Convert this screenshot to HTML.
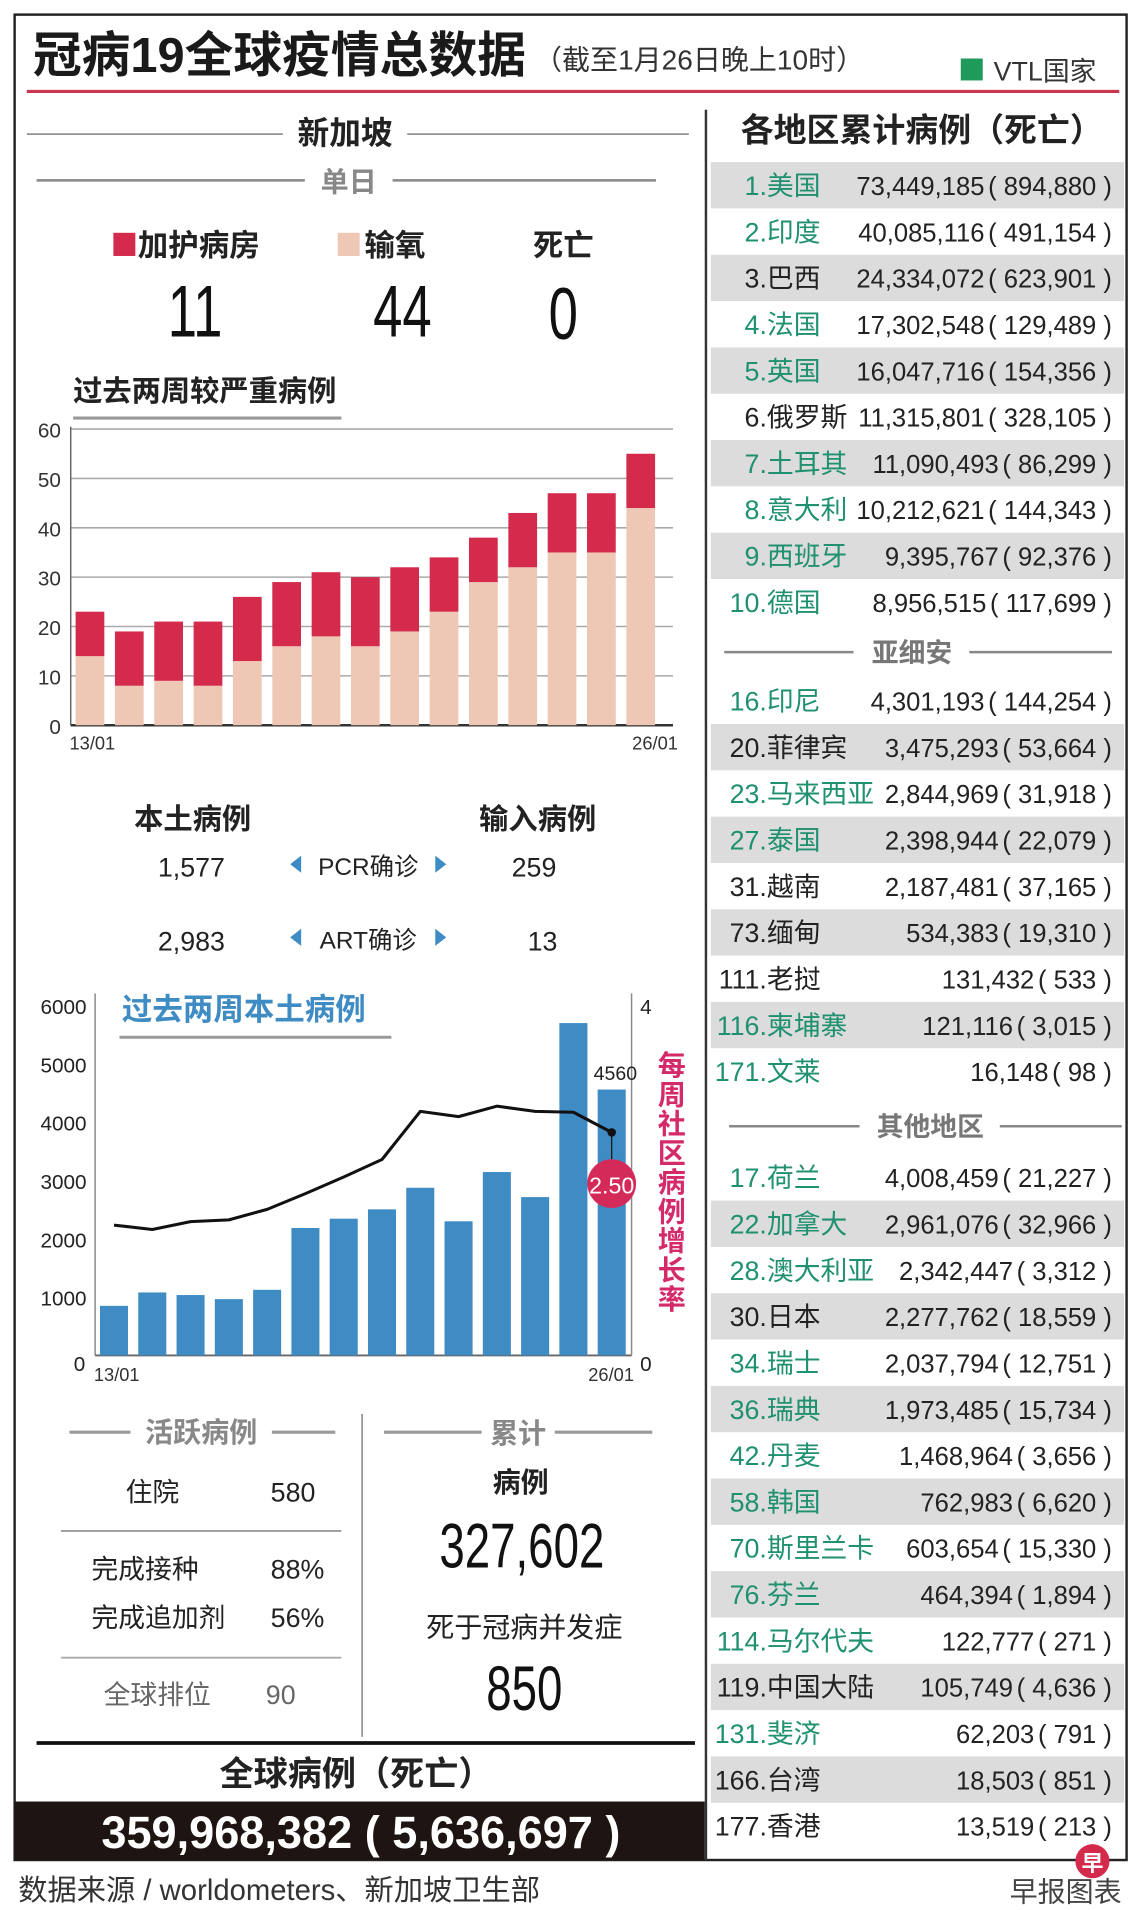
<!DOCTYPE html>
<html><head><meta charset="utf-8">
<style>
html,body{margin:0;padding:0;background:#fff;}
svg{display:block;}
text{font-family:"Liberation Sans","Noto Sans CJK SC",sans-serif;}
.b{font-weight:bold;}
</style></head>
<body>
<svg id="root" width="1140" height="1910" viewBox="0 0 935 1567" preserveAspectRatio="none" xmlns="http://www.w3.org/2000/svg">
<rect x="0" y="0" width="935" height="1567" fill="#fff"/>
<rect x="12" y="12" width="912" height="1514" fill="none" stroke="#222" stroke-width="2"/>
<!-- title -->
<text x="27" y="59" font-size="40" class="b" fill="#1a1a1a">冠病19全球疫情总数据</text>
<text x="438" y="57" font-size="23" fill="#333">（截至1月26日晚上10时）</text>
<rect x="788" y="48" width="18" height="18" fill="#1f9a5a"/>
<text x="815" y="66" font-size="22" fill="#333">VTL国家</text>
<line x1="22" y1="75" x2="918" y2="75" stroke="#c8374f" stroke-width="2.5"/>

<!-- left: singapore -->
<line x1="22" y1="110" x2="232" y2="110" stroke="#555" stroke-width="1"/>
<line x1="334" y1="110" x2="565" y2="110" stroke="#555" stroke-width="1"/>
<text x="283" y="118" font-size="26" class="b" text-anchor="middle" fill="#222">新加坡</text>
<line x1="30" y1="148" x2="250" y2="148" stroke="#888" stroke-width="2"/>
<line x1="322" y1="148" x2="538" y2="148" stroke="#888" stroke-width="2"/>
<text x="286" y="157" font-size="23" class="b" text-anchor="middle" fill="#888">单日</text>

<rect x="93" y="191" width="18" height="19" fill="#d42a4c"/>
<text x="113" y="210" font-size="25" class="b" fill="#222">加护病房</text>
<rect x="277" y="191" width="18" height="19" fill="#eec7b5"/>
<text x="299" y="210" font-size="25" class="b" fill="#222">输氧</text>
<text x="462" y="210" font-size="25" class="b" text-anchor="middle" fill="#222">死亡</text>
<text transform="translate(160,276) scale(0.72,1)" font-size="60" text-anchor="middle" fill="#111">11</text>
<text transform="translate(330,276) scale(0.72,1)" font-size="60" text-anchor="middle" fill="#111">44</text>
<text transform="translate(462,278) scale(0.72,1)" font-size="60" text-anchor="middle" fill="#111">0</text>

<text x="60" y="329" font-size="24" class="b" fill="#222">过去两周较严重病例</text>
<line x1="60" y1="343" x2="280" y2="343" stroke="#999" stroke-width="2.5"/>
<g id="chart1"></g>

<!-- local/imported -->
<text x="158" y="680" font-size="24" class="b" text-anchor="middle" fill="#222">本土病例</text>
<text x="441" y="680" font-size="24" class="b" text-anchor="middle" fill="#222">输入病例</text>
<text x="157" y="719" font-size="22" text-anchor="middle" fill="#222">1,577</text>
<polygon points="238,709 247,702 247,716" fill="#3f8bc3"/>
<text x="302" y="718" font-size="20" text-anchor="middle" fill="#222">PCR确诊</text>
<polygon points="366,709 357,702 357,716" fill="#3f8bc3"/>
<text x="438" y="719" font-size="22" text-anchor="middle" fill="#222">259</text>
<text x="157" y="780" font-size="22" text-anchor="middle" fill="#222">2,983</text>
<polygon points="238,769 247,762 247,776" fill="#3f8bc3"/>
<text x="302" y="778" font-size="20" text-anchor="middle" fill="#222">ART确诊</text>
<polygon points="366,769 357,762 357,776" fill="#3f8bc3"/>
<text x="445" y="780" font-size="22" text-anchor="middle" fill="#222">13</text>

<text x="100" y="837" font-size="25" class="b" fill="#3f8bc3">过去两周本土病例</text>
<line x1="98" y1="851" x2="321" y2="851" stroke="#999" stroke-width="2.5"/>
<g id="chart2"></g>
<text font-size="23" class="b" fill="#d42a6a" text-anchor="middle">
<tspan x="551" y="882">每</tspan><tspan x="551" y="906">周</tspan><tspan x="551" y="930">社</tspan><tspan x="551" y="954">区</tspan><tspan x="551" y="978">病</tspan><tspan x="551" y="1002">例</tspan><tspan x="551" y="1026">增</tspan><tspan x="551" y="1050">长</tspan><tspan x="551" y="1074">率</tspan></text>

<!-- bottom left stats -->
<line x1="297" y1="1160" x2="297" y2="1425" stroke="#999" stroke-width="1.5"/>
<line x1="57" y1="1175" x2="107" y2="1175" stroke="#999" stroke-width="2.5"/>
<line x1="223" y1="1175" x2="275" y2="1175" stroke="#999" stroke-width="2.5"/>
<text x="165" y="1183" font-size="23" class="b" text-anchor="middle" fill="#888">活跃病例</text>
<text x="103" y="1232" font-size="22" fill="#222">住院</text>
<text x="222" y="1232" font-size="22" fill="#222">580</text>
<line x1="50" y1="1256" x2="280" y2="1256" stroke="#999" stroke-width="1.5"/>
<text x="75" y="1295" font-size="22" fill="#222">完成接种</text>
<text x="222" y="1295" font-size="22" fill="#222">88%</text>
<text x="75" y="1335" font-size="22" fill="#222">完成追加剂</text>
<text x="222" y="1335" font-size="22" fill="#222">56%</text>
<line x1="50" y1="1360" x2="280" y2="1360" stroke="#aaa" stroke-width="1.5"/>
<text x="85" y="1398" font-size="22" fill="#666">全球排位</text>
<text x="218" y="1398" font-size="22" fill="#666">90</text>

<line x1="315" y1="1175" x2="395" y2="1175" stroke="#999" stroke-width="2.5"/>
<line x1="455" y1="1175" x2="535" y2="1175" stroke="#999" stroke-width="2.5"/>
<text x="425" y="1184" font-size="23" class="b" text-anchor="middle" fill="#888">累计</text>
<text x="427" y="1224" font-size="23" class="b" text-anchor="middle" fill="#222">病例</text>
<text transform="translate(428,1286) scale(0.72,1)" font-size="52" text-anchor="middle" fill="#111">327,602</text>
<text x="430" y="1343" font-size="23" text-anchor="middle" fill="#222">死于冠病并发症</text>
<text transform="translate(430,1403) scale(0.72,1)" font-size="52" text-anchor="middle" fill="#111">850</text>

<line x1="30" y1="1430" x2="570" y2="1430" stroke="#111" stroke-width="3"/>
<text x="292" y="1465" font-size="28" class="b" text-anchor="middle" fill="#222">全球病例（死亡）</text>
<rect x="12" y="1478" width="566" height="48" fill="#1e1512"/>
<text x="296" y="1516" font-size="37" class="b" text-anchor="middle" fill="#fff">359,968,382 ( 5,636,697 )</text>

<!-- right table -->
<line x1="579" y1="90" x2="579" y2="1526" stroke="#333" stroke-width="2"/>
<text x="756" y="116" font-size="27" class="b" text-anchor="middle" fill="#222">各地区累计病例（死亡）</text>
<g id="table"></g>
<line x1="594" y1="535" x2="700" y2="535" stroke="#888" stroke-width="2"/>
<line x1="795" y1="535" x2="912" y2="535" stroke="#888" stroke-width="2"/>
<text x="748" y="543" font-size="22" class="b" text-anchor="middle" fill="#777">亚细安</text>
<line x1="598" y1="924" x2="705" y2="924" stroke="#888" stroke-width="2"/>
<text x="763" y="932" font-size="22" class="b" text-anchor="middle" fill="#777">其他地区</text>
<line x1="820" y1="924" x2="920" y2="924" stroke="#888" stroke-width="2"/>

<!-- footer -->
<text x="15" y="1559" font-size="24" fill="#333">数据来源 / worldometers、新加坡卫生部</text>
<circle cx="896" cy="1527" r="14" fill="#d42a4c"/>
<text x="896" y="1535" font-size="18" class="b" text-anchor="middle" fill="#fff">早</text>
<text x="920" y="1560" font-size="23" text-anchor="end" fill="#444">早报图表</text>
</svg>
<script>
// Chart 1: severe cases (oxygen + ICU)
const sevDates = ["13/01","14/01","15/01","16/01","17/01","18/01","19/01","20/01","21/01","22/01","23/01","24/01","25/01","26/01","27/01"];
const oxygenVals = [14, 8, 9, 8, 13, 16, 18, 16, 19, 23, 29, 32, 35, 35, 44];
const icuVals = [9, 11, 12, 13, 13, 13, 13, 14, 13, 11, 9, 11, 12, 12, 11];
const sevTicks = [0, 10, 20, 30, 40, 50, 60];
const sevEdgeLabels = ["13/01", "26/01"];

// Chart 2: local cases + growth rate
const localVals = [850, 1080, 1035, 965, 1125, 2185, 2345, 2505, 2875, 2300, 3145, 2715, 5700, 4560];
const rateVals = [1.49, 1.44, 1.53, 1.55, 1.67, 1.85, 2.04, 2.24, 2.79, 2.73, 2.85, 2.79, 2.78, 2.55];
const localTicks = [0, 1000, 2000, 3000, 4000, 5000, 6000];
const rateTicks = [0, 4];
const lastBarLabel = "4560";
const lastRateLabel = "2.50";

// Table
const tblRanks = ["1","2","3","4","5","6","7","8","9","10","16","20","23","27","31","73","111","116","171","17","22","28","30","34","36","42","58","70","76","114","119","131","166","177"];
const tblNames = ["美国","印度","巴西","法国","英国","俄罗斯","土耳其","意大利","西班牙","德国","印尼","菲律宾","马来西亚","泰国","越南","缅甸","老挝","柬埔寨","文莱","荷兰","加拿大","澳大利亚","日本","瑞士","瑞典","丹麦","韩国","斯里兰卡","芬兰","马尔代夫","中国大陆","斐济","台湾","香港"];
const tblCases = ["73,449,185","40,085,116","24,334,072","17,302,548","16,047,716","11,315,801","11,090,493","10,212,621","9,395,767","8,956,515","4,301,193","3,475,293","2,844,969","2,398,944","2,187,481","534,383","131,432","121,116","16,148","4,008,459","2,961,076","2,342,447","2,277,762","2,037,794","1,973,485","1,468,964","762,983","603,654","464,394","122,777","105,749","62,203","18,503","13,519"];
const tblDeaths = ["894,880","491,154","623,901","129,489","154,356","328,105","86,299","144,343","92,376","117,699","144,254","53,664","31,918","22,079","37,165","19,310","533","3,015","98","21,227","32,966","3,312","18,559","12,751","15,734","3,656","6,620","15,330","1,894","271","4,636","791","851","213"];
const tblVtl = [1,1,0,1,1,0,1,1,1,1, 1,0,1,1,0,0,0,1,1, 1,1,1,0,1,1,1,1,1,1,1,0,1,0,0];
const tblShade = [1,0,1,0,1,0,1,0,1,0, 0,1,0,1,0,1,0,1,0, 0,1,0,1,0,1,0,1,0,1,0,1,0,1,0];

const NS = "http://www.w3.org/2000/svg";
function mk(parent, tag, attrs, txt){
  const e = document.createElementNS(NS, tag);
  for (const k in attrs) e.setAttribute(k, attrs[k]);
  if (txt !== undefined) e.textContent = txt;
  parent.appendChild(e);
  return e;
}

// ---- chart 1
(function(){
  const g = document.getElementById("chart1");
  const x0 = 58, x1 = 552, yBase = 595, yTop = 352, vMax = 60;
  const y = v => yBase - v / vMax * (yBase - yTop);
  const n = oxygenVals.length;
  const step = (x1 - x0 - 10) / n;
  const bw = step * 0.73;
  const bx = i => x0 + 4 + i * step;
  sevTicks.forEach(t => {
    if (t > 0) {
      const gl = mk(g, "line", {x1:x0, x2:x1, y1:y(t), y2:y(t), stroke:"#aaa", "stroke-width":1.3});
      
      
    }
    const tl = mk(g, "text", {x:50, y:y(t)+7, "font-size":17, "text-anchor":"end", fill:"#333"}, String(t));
    
    
  });
  mk(g, "line", {x1:x0, x2:x0, y1:yTop-2, y2:yBase, stroke:"#666", "stroke-width":1.2});
  const ax = mk(g, "line", {x1:x0, x2:x1, y1:yBase, y2:yBase, stroke:"#333", "stroke-width":2});
  
  
  for (let i = 0; i < n; i++) {
    const o = mk(g, "rect", {x:bx(i), y:y(oxygenVals[i]), width:bw, height:yBase - y(oxygenVals[i]), fill:"#eec7b5"});
    
    
    const tot = oxygenVals[i] + icuVals[i];
    const r = mk(g, "rect", {x:bx(i), y:y(tot), width:bw, height:y(oxygenVals[i]) - y(tot), fill:"#d42a4c"});
    
    
  }
  const l1 = mk(g, "text", {x:57, y:615, "font-size":15, fill:"#333"}, sevEdgeLabels[0]);
  
  
  const l2 = mk(g, "text", {x:556, y:615, "font-size":15, "text-anchor":"end", fill:"#333"}, sevEdgeLabels[1]);
  
  
})();

// ---- chart 2
(function(){
  const g = document.getElementById("chart2");
  const xL = 78, xR = 518, yBase = 1112, yTop = 825, lMax = 6000, rMax = 4;
  const yl = v => yBase - v / lMax * (yBase - yTop);
  const yr = v => yBase - v / rMax * (yBase - yTop);
  const n = localVals.length;
  const step = 31.4, bw = 23;
  const bx = i => 82 + i * step;
  mk(g, "line", {x1:xL, x2:xL, y1:815, y2:yBase, stroke:"#888", "stroke-width":1.2});
  mk(g, "line", {x1:xR, x2:xR, y1:815, y2:yBase, stroke:"#888", "stroke-width":1.2});
  const ax = mk(g, "line", {x1:xL, x2:xR, y1:yBase, y2:yBase, stroke:"#666", "stroke-width":1.5});
  
  
  localTicks.forEach(t => {
    const tl = mk(g, "text", {x:t === 0 ? 70 : 71, y:(t === 0 ? yBase + 13 : yl(t) + 7), "font-size":17, "text-anchor":"end", fill:"#222"}, String(t));
    
    
  });
  rateTicks.forEach(t => {
    const tl = mk(g, "text", {x:525, y:(t === 0 ? yBase + 13 : yr(t) + 7), "font-size":17, fill:"#222"}, String(t));
    
    
  });
  for (let i = 0; i < n; i++) {
    const b = mk(g, "rect", {x:bx(i), y:yl(localVals[i]), width:bw, height:yBase - yl(localVals[i]), fill:"#3f8bc3"});
    
    
  }
  const pts = rateVals.map((v, i) => (bx(i) + bw / 2) + "," + yr(v)).join(" ");
  const ln = mk(g, "polyline", {points:pts, fill:"none", stroke:"#111", "stroke-width":2.5, "stroke-linejoin":"round"});
  
  
  const lx = bx(n - 1) + bw / 2, ly = yr(rateVals[n - 1]);
  const dot = mk(g, "circle", {cx:lx, cy:ly, r:3.5, fill:"#111"});
  
  
  mk(g, "line", {x1:lx, x2:lx, y1:ly, y2:ly + 22, stroke:"#111", "stroke-width":1});
  const bub = mk(g, "circle", {cx:lx, cy:ly + 42, r:20, fill:"#d42a5a"});
  
  
  const bt = mk(g, "text", {x:lx, y:ly + 50, "font-size":19, "text-anchor":"middle", fill:"#fff"}, lastRateLabel);
  
  
  const vl = mk(g, "text", {x:bx(n - 1) + bw / 2 + 3, y:yl(localVals[n - 1]) - 8, "font-size":16, "text-anchor":"middle", fill:"#222"}, lastBarLabel);
  
  
  const l1 = mk(g, "text", {x:77, y:1133, "font-size":15, fill:"#333"}, sevEdgeLabels[0]);
  
  
  const l2 = mk(g, "text", {x:520, y:1133, "font-size":15, "text-anchor":"end", fill:"#333"}, sevEdgeLabels[1]);
  
  
})();

// ---- table
(function(){
  const g = document.getElementById("table");
  const rowY = i => i < 10 ? 152 + i * 38 : (i < 19 ? 575 + (i - 10) * 38 : 966 + (i - 19) * 38);
  for (let i = 0; i < tblRanks.length; i++) {
    const cy = rowY(i);
    if (tblShade[i]) {
      const bg = mk(g, "rect", {x:583, y:cy - 19, width:339, height:38, fill:"#dcdcdc"});
      
      
    }
    const col = tblVtl[i] ? "#1f9070" : "#222";
    const rk = mk(g, "text", {x:629, y:cy + 8, "font-size":22, "text-anchor":"end", fill:col}, tblRanks[i] + ".");
    
    
    const nm = mk(g, "text", {x:629, y:cy + 8, "font-size":22, fill:col}, tblNames[i]);
    
    
    const dt = mk(g, "text", {x:912, y:cy + 8, "font-size":21, "text-anchor":"end", fill:"#222"}, "( " + tblDeaths[i] + " )");
    
    
    const w = dt.getComputedTextLength ? dt.getComputedTextLength() : 90;
    const cs = mk(g, "text", {x:912 - w - 3, y:cy + 8, "font-size":21, "text-anchor":"end", fill:"#222"}, tblCases[i]);
    
    
  }
})();
</script>
</body></html>
